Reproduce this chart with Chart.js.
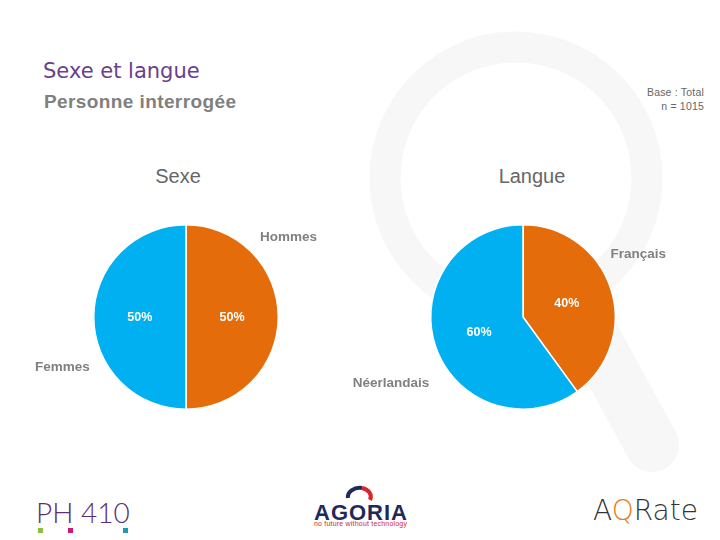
<!DOCTYPE html>
<html>
<head>
<meta charset="utf-8">
<script src="https://cdn.jsdelivr.net/npm/chart.js@4/dist/chart.umd.min.js"></script>
<style>
  html, body { margin:0; padding:0; background:#fff; }
  #page { position:relative; width:720px; height:540px; overflow:hidden; background:#fff; font-family:"Liberation Sans", Arial, sans-serif; }
  .abs { position:absolute; white-space:nowrap; }
  #title { left:43px; top:59px; font-family:"DejaVu Sans", sans-serif; font-size:21px; color:#6a3f8c; }
  #subtitle { left:44px; top:91px; font-size:19px; font-weight:bold; color:#808080; letter-spacing:0.4px; }
  #base { right:16px; top:85px; font-size:10.5px; color:#666; text-align:right; line-height:14px; letter-spacing:0.2px; }
  .ctitle { font-size:20px; color:#666; transform:translateX(-50%); }
  canvas { position:absolute; }
</style>
</head>
<body>
<div id="page">
  <svg class="abs" style="left:0;top:0" width="720" height="540">
    <circle cx="516" cy="178" r="131" fill="none" stroke="#f7f7f7" stroke-width="31"/>
    <line x1="592" y1="335" x2="652" y2="445" stroke="#f7f7f7" stroke-width="54" stroke-linecap="round"/>
  </svg>
  <div id="title" class="abs">Sexe et langue</div>
  <div id="subtitle" class="abs">Personne interrogée</div>
  <div id="base" class="abs">Base : Total<br>n = 1015</div>
  <div class="abs ctitle" style="left:178px;top:165px">Sexe</div>
  <div class="abs ctitle" style="left:532px;top:165px">Langue</div>
  <canvas id="c1" width="340" height="240" style="left:16px;top:197px;width:340px;height:240px"></canvas>
  <canvas id="c2" width="360" height="240" style="left:343px;top:197px;width:360px;height:240px"></canvas>

  <!-- logos -->
  <div class="abs" style="left:36px;top:495px;font-family:'Lato',sans-serif;font-size:28px;font-weight:300;color:#5b2f73;">PH 410</div>
  <div class="abs" style="left:38px;top:528px;width:5px;height:5px;background:#8cbf3f"></div>
  <div class="abs" style="left:68px;top:528px;width:5px;height:5px;background:#c81a7a"></div>
  <div class="abs" style="left:123px;top:528px;width:5px;height:5px;background:#1c9bb5"></div>

  <svg class="abs" style="left:340px;top:484px" width="40" height="20">
    <path d="M8 14 A12 9 0 0 1 22 4" fill="none" stroke="#1f2a5a" stroke-width="4"/>
    <path d="M22 4 A12 9 0 0 1 30 16" fill="none" stroke="#d9262e" stroke-width="4"/>
  </svg>
  <div class="abs" style="left:314px;top:500px;font-size:22px;font-weight:bold;color:#1f2a5a;letter-spacing:1px">AGORIA</div>
  <div class="abs" style="left:314px;top:520px;font-size:7px;color:#d9262e;letter-spacing:0.2px">no future without technology</div>

  <div class="abs" style="left:593px;top:494px;font-family:'DejaVu Sans',sans-serif;font-size:28px;font-weight:200;color:#333">A<span style="color:#e67e22">Q</span>Rate</div>
</div>
<script>
const sexLabels = ['Hommes', 'Femmes'];
const sexValues = [50, 50];
const langLabels = ['Français', 'Néerlandais'];
const langValues = [40, 60];
const sliceColors = ['#E46C0A', '#00B0F0'];

const pieLabels = {
  id: 'pieLabels',
  afterDatasetsDraw(chart, args, opts) {
    const ctx = chart.ctx;
    const meta = chart.getDatasetMeta(0);
    const ds = chart.data.datasets[0];
    ctx.save();
    ctx.textAlign = 'center';
    ctx.textBaseline = 'middle';
    meta.data.forEach((arc, i) => {
      const p = arc.getProps(['x','y','startAngle','endAngle','outerRadius'], true);
      const mid = (p.startAngle + p.endAngle) / 2;
      const r = p.outerRadius * 0.5;
      ctx.fillStyle = '#ffffff';
      ctx.font = 'bold 12.5px "Liberation Sans", Arial, sans-serif';
      ctx.fillText(ds.data[i] + '%', p.x + Math.cos(mid) * r, p.y + Math.sin(mid) * r + 1);
      const off = opts.offsets[i];
      ctx.fillStyle = '#808080';
      ctx.font = 'bold 13.5px "Liberation Sans", Arial, sans-serif';
      ctx.fillText(chart.data.labels[i], p.x + off[0] * p.outerRadius, p.y + off[1] * p.outerRadius);
    });
    ctx.restore();
  }
};

function makePie(id, labels, values, offsets, padLR) {
  return new Chart(document.getElementById(id), {
    type: 'pie',
    data: {
      labels: labels,
      datasets: [{ data: values, backgroundColor: sliceColors, borderColor: '#ffffff', borderWidth: 1.5 }]
    },
    options: {
      responsive: false,
      animation: false,
      layout: { padding: { left: padLR, right: padLR, top: 27, bottom: 27 } },
      plugins: {
        legend: { display: false },
        tooltip: { enabled: false },
        title: { display: false },
        pieLabels: { offsets: offsets }
      }
    },
    plugins: [pieLabels]
  });
}

makePie('c1', sexLabels, sexValues, [[1.11, -0.86], [-1.34, 0.54]], 77);
makePie('c2', langLabels, langValues, [[1.25, -0.68], [-1.43, 0.72]], 87);
</script>
</body>
</html>
